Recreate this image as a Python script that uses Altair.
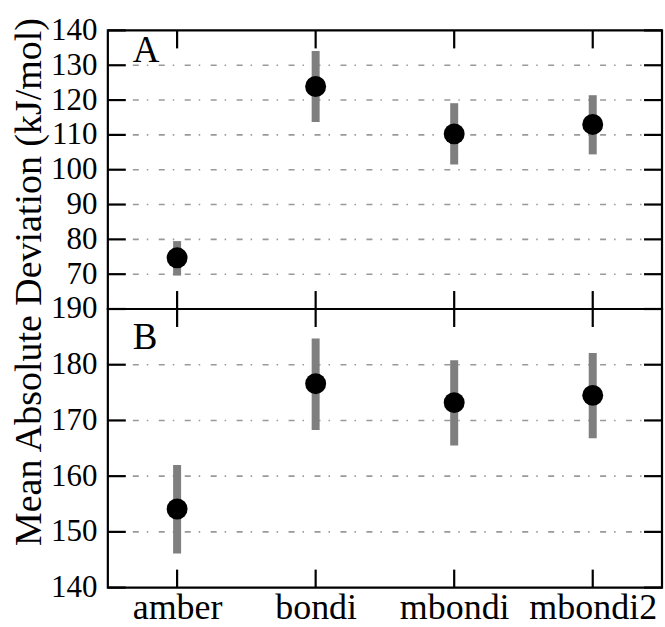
import altair as alt
import pandas as pd

categories = ["amber", "bondi", "mbondi", "mbondi2"]

# Panel A
a_mean = [74.7, 123.9, 110.3, 113.0]
a_lo = [69.6, 113.7, 101.5, 104.4]
a_hi = [79.5, 134.1, 119.1, 121.4]
a_ticks = [70, 80, 90, 100, 110, 120, 130, 140]
a_grid = [70, 80, 90, 100, 110, 120, 130]

# Panel B
b_mean = [154.1, 176.6, 173.2, 174.5]
b_lo = [146.1, 168.3, 165.5, 166.8]
b_hi = [162.0, 184.7, 180.8, 182.1]
b_ticks = [140, 150, 160, 170, 180, 190]
b_grid = [150, 160, 170, 180]

W = 555
H = 279
FONT = "Liberation Serif"
GRID_DASH = [6, 8, 1.5, 10.5]


def panel(mean, lo, hi, ticks, grid, domain, label, label_y, bottom):
    df = pd.DataFrame({"cat": categories, "mean": mean, "lo": lo, "hi": hi})
    gdf = pd.DataFrame({"v": grid})
    tdf = pd.DataFrame({"v": ticks})
    cdf = pd.DataFrame({"cat": categories})

    xscale = alt.Scale(type="point", domain=categories, padding=0.5)
    yscale = alt.Scale(domain=domain, nice=False, zero=False)

    if bottom:
        xaxis = alt.Axis(title=None, labelAngle=0, ticks=False, domain=False, grid=False,
                         labelFont=FONT, labelFontSize=36, labelColor="black",
                         labelPadding=3, labelOverlap=False)
    else:
        xaxis = None

    yaxis = alt.Axis(values=ticks, title=None, ticks=False, domain=False, grid=False,
                     labelFont=FONT, labelFontSize=31, labelColor="black",
                     labelPadding=11, labelOverlap=False, labelFlush=False)

    def X(field):
        return alt.X(field, scale=xscale, axis=xaxis)

    def Y(field):
        return alt.Y(field, scale=yscale, axis=yaxis)

    ytick_l = alt.Chart(tdf).mark_rule(color="black", strokeWidth=2.2).encode(
        y=Y("v:Q"), x=alt.value(0), x2=alt.value(18))
    ytick_r = alt.Chart(tdf).mark_rule(color="black", strokeWidth=2.2).encode(
        y=Y("v:Q"), x=alt.value(W - 18), x2=alt.value(W))

    grid_layer = alt.Chart(gdf).mark_rule(color="#999999", strokeWidth=1.6,
                                          strokeDash=GRID_DASH).encode(
        y=Y("v:Q"), x=alt.value(25), x2=alt.value(W - 18))

    xtick_t = alt.Chart(cdf).mark_rule(color="black", strokeWidth=2.2).encode(
        x=X("cat:N"), y=alt.value(0), y2=alt.value(18))
    xtick_b = alt.Chart(cdf).mark_rule(color="black", strokeWidth=2.2).encode(
        x=X("cat:N"), y=alt.value(H - 18), y2=alt.value(H))

    err = alt.Chart(df).mark_rule(color="#7f7f7f", strokeWidth=8).encode(
        x=X("cat:N"), y=Y("lo:Q"), y2="hi:Q")
    pts = alt.Chart(df).mark_circle(color="black", opacity=1, size=440).encode(
        x=X("cat:N"), y=Y("mean:Q"))

    lab = alt.Chart(pd.DataFrame({"t": [label]})).mark_text(
        font=FONT, fontSize=37, align="left", baseline="alphabetic", color="black").encode(
        text="t:N", x=alt.value(25), y=alt.value(label_y))

    layers = [ytick_l, grid_layer, ytick_r, xtick_t, xtick_b, err, pts, lab]
    if not bottom:
        title_layer = alt.Chart(pd.DataFrame({"t": ["Mean Absolute Deviation (kJ/mol)"]})).mark_text(
            font=FONT, fontSize=38, angle=270, align="center", baseline="middle",
            color="black").encode(text="t:N", x=alt.value(-78), y=alt.value(252))
        layers.append(title_layer)
    return alt.layer(*layers).properties(width=W, height=H)


top = panel(a_mean, a_lo, a_hi, a_ticks, a_grid, [60, 140], "A", 32, False)
bot = panel(b_mean, b_lo, b_hi, b_ticks, b_grid, [140, 190], "B", 40, True)

chart = alt.vconcat(top, bot, spacing=0, bounds="flush").properties(
    padding={"left": 9, "top": 12, "right": 0, "bottom": 0}
).configure(
    background="white",
    view=alt.ViewConfig(stroke="black", strokeWidth=2.2),
    axis=alt.AxisConfig(labelOverlap=False),
)

chart.save("out.html", embed_options={"renderer": "svg", "actions": False})
